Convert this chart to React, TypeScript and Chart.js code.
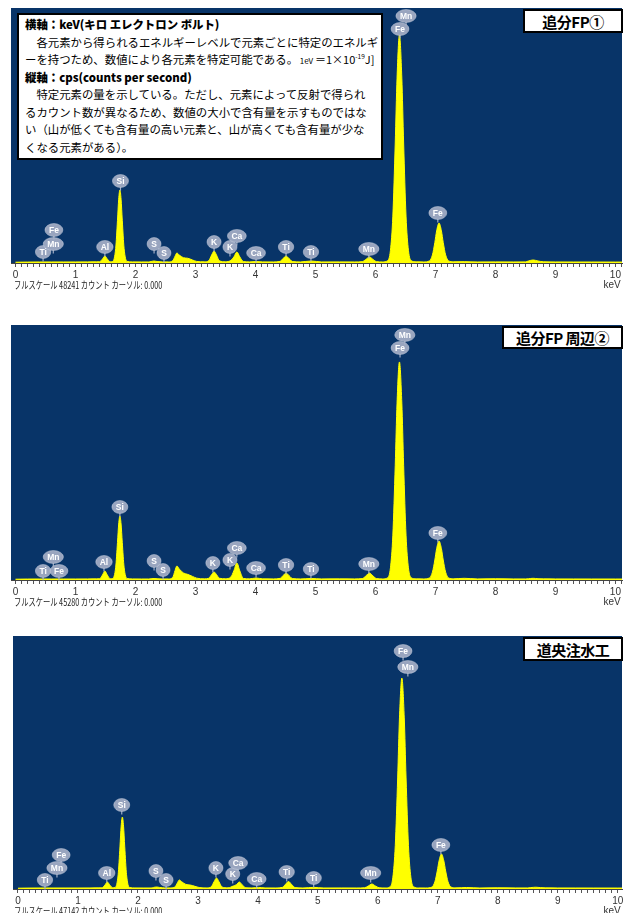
import React, { useEffect, useRef } from 'react';
import { Chart, registerables } from 'chart.js';

Chart.register(...registerables);

// ---------------- DATA ----------------
// energy grid (keV), shared by the three spectra
const ENERGY_KEV = [
  0.0, 0.2, 0.4, 0.6, 0.8, 1.0, 1.2, 1.35,
  1.4, 1.45, 1.49, 1.53, 1.58,
  1.62, 1.67, 1.7, 1.72, 1.74, 1.76, 1.78, 1.81, 1.86, 1.95,
  2.1, 2.22, 2.26, 2.31, 2.36, 2.45, 2.55,
  2.62, 2.66, 2.69, 2.73, 2.8, 2.87, 2.95, 3.02, 3.15,
  3.22, 3.27, 3.31, 3.35, 3.4, 3.5, 3.59,
  3.64, 3.69, 3.74, 3.8, 3.9, 4.01, 4.12, 4.3,
  4.41, 4.46, 4.51, 4.56, 4.62, 4.75, 4.93, 5.1, 5.4, 5.65,
  5.78, 5.84, 5.9, 5.96, 6.02, 6.12,
  6.2, 6.25, 6.29, 6.33, 6.36, 6.4, 6.44, 6.47, 6.51, 6.55, 6.6, 6.68, 6.8,
  6.9, 6.95, 6.99, 7.02, 7.06, 7.1, 7.13, 7.17, 7.22, 7.3,
  7.48, 7.7, 8.0, 8.3, 8.5, 8.55, 8.63, 8.71, 8.8,
  9.0, 9.3, 9.6, 10.0, 10.11,
];

// counts – 追分FP①
const COUNTS_PANEL1 = [
  150, 180, 200, 200, 200, 200, 210, 220,
  234, 760, 1320, 760, 234,
  300, 2745, 8080, 12070, 13810, 12070, 8080, 2745, 300, 210,
  200, 200, 280, 380, 280, 210, 210,
  430, 1300, 1890, 1500, 1000, 900, 570, 300, 220,
  420, 1525, 2270, 1525, 420, 230, 500,
  1140, 2080, 1140, 265, 210, 280, 210, 200,
  310, 830, 1320, 830, 270, 200, 380, 200, 210, 200,
  260, 670, 1140, 670, 260, 200,
  420, 2410, 8870, 22700, 34970, 43130, 34970, 22700, 8870, 2410, 420, 220, 200,
  400, 1530, 3885, 6070, 7570, 6070, 3885, 1530, 400, 230,
  260, 200, 210, 200, 210, 380, 570, 380, 230,
  200, 190, 190, 180, 180,
];

// counts – 追分FP周辺②
const COUNTS_PANEL2 = [
  140, 170, 180, 180, 180, 180, 190, 200,
  223, 890, 1600, 890, 223,
  260, 2270, 6660, 9940, 11370, 9940, 6660, 2270, 260, 190,
  180, 180, 230, 270, 230, 190, 190,
  450, 1700, 2490, 1950, 1250, 1000, 640, 330, 200,
  310, 975, 1420, 975, 310, 220, 530,
  1650, 3020, 1600, 280, 200, 355, 200, 190,
  290, 775, 1240, 775, 245, 190, 270, 190, 200, 190,
  246, 710, 1240, 710, 246, 190,
  377, 2165, 7965, 20380, 31400, 38720, 31400, 20380, 7965, 2165, 377, 200, 190,
  362, 1395, 3555, 5560, 6930, 5560, 3555, 1395, 362, 210,
  300, 190, 230, 190, 190, 230, 300, 230, 200,
  190, 185, 180, 175, 175,
];

// counts – 道央注水工
const COUNTS_PANEL3 = [
  150, 180, 190, 190, 190, 190, 200, 210,
  223, 745, 1300, 745, 223,
  285, 2660, 7840, 11720, 13410, 11720, 7840, 2660, 285, 200,
  190, 190, 290, 370, 290, 200, 200,
  400, 1200, 1680, 1350, 850, 745, 500, 280, 200,
  387, 1380, 2050, 1380, 387, 220, 560,
  800, 1300, 745, 230, 200, 300, 200, 190,
  311, 870, 1400, 870, 266, 190, 300, 190, 200, 190,
  236, 560, 930, 560, 236, 190,
  390, 2205, 8090, 20690, 31880, 39310, 31880, 20690, 8090, 2205, 390, 200, 190,
  361, 1330, 3355, 5235, 6520, 5235, 3355, 1330, 361, 210,
  280, 190, 230, 200, 200, 260, 330, 260, 210,
  195, 190, 185, 180, 180,
];

const FULL_SCALE = [48241, 45280, 47142];
const PANEL_TITLES = ['追分FP①', '追分FP 周辺②', '道央注水工'];
const X_TICK_LABELS = ['0', '1', '2', '3', '4', '5', '6', '7', '8', '9', '10'];
const X_UNIT = 'keV';

// element markers: [element, keV, counts at marker centre]
const LABELS_PANEL1: [string, number, number][] = [
  ['Ti', 0.46, 2080], ['Mn', 0.63, 3590], ['Fe', 0.64, 6240], ['Al', 1.49, 3030],
  ['Si', 1.75, 15510], ['S', 2.31, 3590], ['S', 2.475, 1890], ['K', 3.31, 3970],
  ['K', 3.575, 3030], ['Ca', 3.69, 5110], ['Ca', 4.01, 1890], ['Ti', 4.51, 3030],
  ['Ti', 4.925, 2080], ['Mn', 5.89, 2650], ['Fe', 7.04, 9460], ['Fe', 6.41, 44270],
  ['Mn', 6.51, 46730],
];
const LABELS_PANEL2: [string, number, number][] = [
  ['Ti', 0.46, 1600], ['Mn', 0.63, 4085], ['Fe', 0.725, 1600], ['Al', 1.475, 3200],
  ['Si', 1.74, 12960], ['S', 2.31, 3375], ['S', 2.46, 1776], ['K', 3.29, 3020],
  ['K', 3.575, 3550], ['Ca', 3.69, 5680], ['Ca', 4.01, 2130], ['Ti', 4.51, 2660],
  ['Ti', 4.925, 1950], ['Mn', 5.89, 2840], ['Fe', 7.04, 8350], ['Fe', 6.41, 41200],
  ['Mn', 6.49, 43510],
];
const LABELS_PANEL3: [string, number, number][] = [
  ['Ti', 0.45, 1680], ['Mn', 0.65, 3910], ['Fe', 0.72, 6330], ['Al', 1.48, 2980],
  ['Si', 1.73, 15650], ['S', 2.3, 3350], ['S', 2.47, 1680], ['K', 3.3, 3910],
  ['K', 3.58, 2790], ['Ca', 3.67, 4840], ['Ca', 3.98, 1860], ['Ti', 4.48, 3170],
  ['Ti', 4.93, 2050], ['Mn', 5.88, 2980], ['Fe', 7.05, 8200], ['Fe', 6.42, 44340],
  ['Mn', 6.5, 41360],
];

const INFO_LINES = [
  '横軸：keV(キロ エレクトロン ボルト)',
  '　各元素から得られるエネルギーレベルで元素ごとに特定のエネルギ',
  'ーを持つため、数値により各元素を特定可能である。',
  '縦軸：cps(counts per second)',
  '　特定元素の量を示している。ただし、元素によって反射で得られ',
  'るカウント数が異なるため、数値の大小で含有量を示すものではな',
  'い（山が低くても含有量の高い元素と、山が高くても含有量が少な',
  'くなる元素がある）。',
];

// ---------------- LAYOUT ----------------
const COUNTS = [COUNTS_PANEL1, COUNTS_PANEL2, COUNTS_PANEL3];
const LABELS = [LABELS_PANEL1, LABELS_PANEL2, LABELS_PANEL3];
const GEOM = [
  { top: 8, bottom: 263, left: 11, right: 622, min: -0.075, max: 10.11, title: { l: 523, t: 9, w: 100, h: 24 } },
  { top: 325, bottom: 580, left: 11, right: 622, min: -0.075, max: 10.11, title: { l: 502, t: 326, w: 121, h: 23 } },
  { top: 636, bottom: 889, left: 13, right: 622, min: -0.083, max: 10.07, title: { l: 523, t: 637, w: 100, h: 24 } },
];
const AXIS_H = 20;
const NAVY = '#083468';
const CJK = '"Noto Sans CJK JP", "Noto Sans", sans-serif';

const bgPlugin = {
  id: 'navyBg',
  beforeDraw(chart: any) {
    const { ctx, chartArea: a } = chart;
    ctx.save();
    ctx.fillStyle = NAVY;
    ctx.fillRect(a.left, a.top, a.right - a.left, a.bottom - a.top);
    ctx.restore();
  },
};

function makeLabelPlugin(labels: [string, number, number][]) {
  return {
    id: 'elementMarkers',
    afterDatasetsDraw(chart: any) {
      const { ctx } = chart;
      const x = chart.scales.x;
      const y = chart.scales.y;
      ctx.save();
      ctx.font = 'bold 8.5px "Liberation Sans", Arial, sans-serif';
      for (const [el, kev, cnt] of labels) {
        const px = x.getPixelForValue(kev);
        const py = y.getPixelForValue(cnt);
        const tw = ctx.measureText(el).width;
        const rx = Math.max(7, tw / 2 + 4);
        const ry = 6.5;
        ctx.strokeStyle = 'rgba(170,180,202,0.95)';
        ctx.lineWidth = 1.2;
        ctx.beginPath();
        ctx.moveTo(px, py + ry - 1);
        ctx.lineTo(px, py + ry + 3);
        ctx.stroke();
        ctx.fillStyle = 'rgba(158,169,194,0.97)';
        ctx.beginPath();
        ctx.ellipse(px, py, rx, ry, 0, 0, Math.PI * 2);
        ctx.fill();
        ctx.strokeStyle = 'rgba(205,211,225,0.8)';
        ctx.lineWidth = 0.6;
        ctx.stroke();
        ctx.fillStyle = '#ffffff';
        ctx.textAlign = 'center';
        ctx.textBaseline = 'middle';
        ctx.fillText(el, px, py + 0.5);
      }
      ctx.restore();
    },
  };
}

function Panel({ idx }: { idx: number }) {
  const ref = useRef<HTMLCanvasElement | null>(null);
  const g = GEOM[idx];
  const h = g.bottom - g.top + AXIS_H;
  useEffect(() => {
    if (!ref.current) return;
    const counts = COUNTS[idx];
    const chart = new Chart(ref.current, {
      type: 'line',
      data: {
        datasets: [
          {
            data: ENERGY_KEV.map((e, i) => ({ x: e, y: counts[i] })),
            borderColor: '#ffff00',
            backgroundColor: '#ffff00',
            borderWidth: 1,
            pointRadius: 0,
            fill: 'origin',
            cubicInterpolationMode: 'monotone',
          } as any,
        ],
      },
      options: {
        animation: false,
        responsive: false,
        events: [],
        layout: { padding: { left: g.left, right: 627 - g.right, top: 0, bottom: 0 } },
        plugins: { legend: { display: false }, tooltip: { enabled: false }, title: { display: false } },
        scales: {
          x: {
            type: 'linear',
            min: g.min,
            max: g.max,
            ticks: {
              stepSize: 0.1,
              autoSkip: false,
              maxRotation: 0,
              includeBounds: false,
              padding: 2,
              color: '#333',
              font: { size: 10, family: '"Liberation Sans", Arial, sans-serif' },
              callback: (v: any) => {
                const r = Math.round(Number(v));
                return Math.abs(Number(v) - r) < 1e-6 && r >= 0 && r <= 10 ? X_TICK_LABELS[r] : '';
              },
            },
            grid: { drawOnChartArea: false, drawTicks: true, tickLength: 4, color: '#555', lineWidth: 1 },
            border: { display: true, color: '#444', width: 1 },
          },
          y: { display: false, min: 0, max: FULL_SCALE[idx] },
        },
      } as any,
      plugins: [bgPlugin, makeLabelPlugin(LABELS[idx])],
    });
    return () => chart.destroy();
  }, [idx]);

  const footerY = g.bottom + 22;
  return (
    <>
      <canvas
        ref={ref}
        width={627}
        height={h}
        style={{ position: 'absolute', left: 0, top: g.top, width: 627, height: h }}
      />
      <div
        style={{
          position: 'absolute', left: 14, top: footerY - 6, fontFamily: CJK, fontSize: 10,
          lineHeight: '12px', color: '#222', whiteSpace: 'nowrap',
          transform: 'scaleX(0.725)', transformOrigin: '0 50%',
        }}
      >
        {`フルスケール ${FULL_SCALE[idx]} カウント カーソル: 0.000`}
      </div>
      <div
        style={{
          position: 'absolute', left: 600, width: 24, textAlign: 'center', top: footerY - 6,
          fontFamily: '"Liberation Sans", Arial, sans-serif', fontSize: 10, lineHeight: '12px', color: '#333',
        }}
      >
        {X_UNIT}
      </div>
      <div
        style={{
          position: 'absolute', left: g.title.l, top: g.title.t, width: g.title.w, height: g.title.h,
          boxSizing: 'border-box', border: '2px solid #000', background: '#fff', display: 'flex',
          alignItems: 'center', justifyContent: 'center', fontFamily: CJK, fontWeight: 700,
          fontSize: 15, color: '#000', whiteSpace: 'nowrap', letterSpacing: '-0.5px',
        }}
      >
        {PANEL_TITLES[idx]}
      </div>
    </>
  );
}

function InfoBox() {
  const LH = 17.5;
  const lineStyle = (i: number): React.CSSProperties => ({
    position: 'absolute', left: 6, top: 1 + i * LH, height: LH, lineHeight: `${LH}px`,
    fontSize: 11.4, whiteSpace: 'nowrap', fontWeight: i === 0 || i === 3 ? 900 : 400,
  });
  return (
    <div
      style={{
        position: 'absolute', left: 17, top: 13, width: 366, height: 147, boxSizing: 'border-box',
        border: '2px solid #000', background: '#fff', fontFamily: CJK, color: '#000',
      }}
    >
      {INFO_LINES.map((t, i) => (
        <div key={i} style={lineStyle(i)}>
          {t}
          {i === 2 ? (
            <span style={{ fontSize: 11 }}>
              <span style={{ fontSize: 8 }}> 1eV </span> ＝1×10<sup style={{ fontSize: 6.5, lineHeight: 0 }}>-19</sup>J]
            </span>
          ) : null}
        </div>
      ))}
    </div>
  );
}

export default function App() {
  return (
    <div style={{ position: 'absolute', left: 0, top: 0, width: 627, height: 913, background: '#fff', overflow: 'hidden' }}>
      <Panel idx={0} />
      <Panel idx={1} />
      <Panel idx={2} />
      <InfoBox />
    </div>
  );
}
